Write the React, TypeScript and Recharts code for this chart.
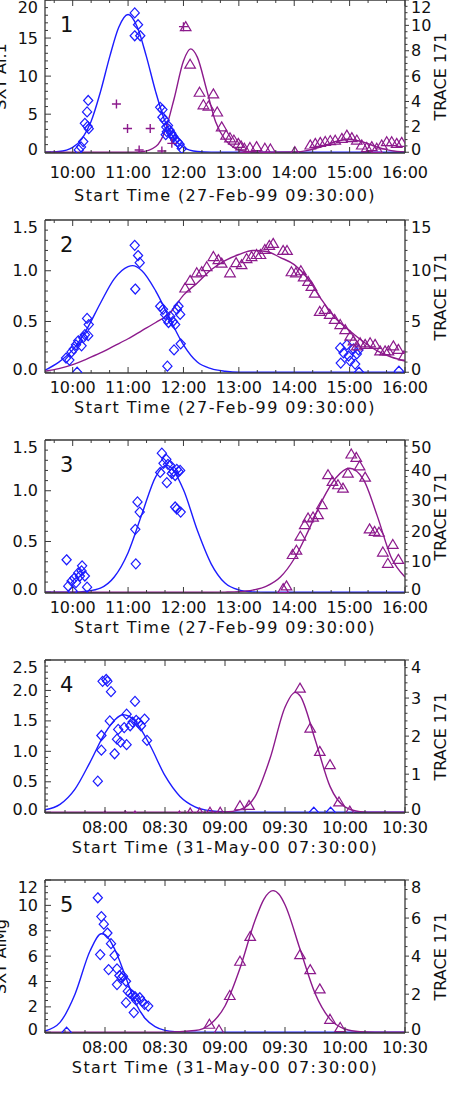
import React from 'react';
import { ComposedChart, Line, Scatter, XAxis, YAxis } from 'recharts';

const BLUE = '#1c1cff';
const PURPLE = '#8c1a8c';
const AX = '#3a3a3a';
const FONT = '"DejaVu Sans", sans-serif';

// x axis tick labels
const HOURS_A = [10, 11, 12, 13, 14, 15, 16];
const LABELS_A = ['10:00', '11:00', '12:00', '13:00', '14:00', '15:00', '16:00'];
const HOURS_B = [8, 8.5, 9, 9.5, 10, 10.5];
const LABELS_B = ['08:00', '08:30', '09:00', '09:30', '10:00', '10:30'];

// y axis major ticks
const P1_LEFT_TICKS = [0, 5, 10, 15, 20];
const P1_RIGHT_TICKS = [0, 2, 4, 6, 8, 10, 12];
const P2_LEFT_TICKS = [0, 0.5, 1, 1.5];
const P2_RIGHT_TICKS = [0, 5, 10, 15];
const P3_LEFT_TICKS = [0, 0.5, 1, 1.5];
const P3_RIGHT_TICKS = [0, 10, 20, 30, 40, 50];
const P4_LEFT_TICKS = [0, 0.5, 1, 1.5, 2, 2.5];
const P4_RIGHT_TICKS = [0, 1, 2, 3, 4];
const P5_LEFT_TICKS = [0, 2, 4, 6, 8, 10, 12];
const P5_RIGHT_TICKS = [0, 2, 4, 6, 8];

// panel 1 (27-Feb-99)
const P1_BLUE_FIT = [[9.5, 0.01], [9.75, 0.1], [10, 0.65], [10.17, 1.8], [10.33, 4.0], [10.5, 7.9], [10.67, 12.6], [10.83, 16.4], [11, 18.1], [11.17, 16.4], [11.33, 12.6], [11.5, 7.9], [11.67, 4.0], [11.83, 1.8], [12, 0.65], [12.25, 0.1], [12.5, 0.01], [13, 0], [16, 0]];
const P1_PURPLE_FIT = [[9.5, 0], [11, 0], [11.25, 0.04], [11.5, 0.45], [11.67, 1.7], [11.83, 4.2], [12, 7.2], [12.13, 8.15], [12.25, 7.5], [12.42, 4.9], [12.58, 2.4], [12.75, 1.0], [12.92, 0.35], [13.08, 0.1], [13.25, 0.02], [13.5, 0], [14, 0.02], [14.25, 0.15], [14.5, 0.45], [14.75, 0.85], [15, 1.0], [15.25, 0.8], [15.5, 0.4], [15.75, 0.13], [16, 0.03]];
const P1_DIAMONDS = [[10.28, 6.8], [10.26, 5.3], [10.22, 3.8], [10.27, 3.4], [10.29, 3.1], [10.19, 1.4], [10.15, 0.7], [10.11, 0.3], [11.12, 18.3], [11.18, 16.75], [11.12, 15.3], [11.22, 15.3], [11.58, 5.9], [11.62, 5.6], [11.62, 4.6], [11.66, 4.2], [11.69, 3.3], [11.72, 3.5], [11.7, 2.7], [11.75, 2.9], [11.78, 2.5], [11.8, 2.2], [11.82, 2.0], [11.85, 1.6], [11.89, 1.4], [11.93, 1.05], [11.97, 0.5], [11.68, 2.3]];
const P1_PLUS = [[10.79, 3.8], [10.99, 1.87], [11.4, 1.87], [11.2, 0.18], [11.61, 0.1], [11.79, 0.7], [12.0, 9.9]];
const P1_TRIANGLES = [[12.04, 9.9], [12.12, 6.94], [12.29, 4.73], [12.54, 4.6], [12.36, 3.74], [12.45, 3.64], [12.61, 3.17], [12.69, 2.0], [12.77, 1.35], [12.84, 1.14], [12.91, 0.96], [12.99, 0.7], [13.04, 0.5], [13.1, 0.31], [13.2, 0.37], [13.32, 0.44], [13.47, 0.31], [13.57, 0.26], [14.01, 0.05], [14.29, 0.57], [14.38, 0.7], [14.47, 0.78], [14.56, 0.85], [14.65, 0.92], [14.74, 0.95], [14.86, 1.09], [14.95, 1.35], [15.04, 1.15], [15.13, 0.96], [15.22, 0.57], [15.31, 0.37], [15.4, 0.44], [15.49, 0.31], [15.58, 0.57], [15.67, 0.83], [15.76, 0.83], [15.85, 0.7], [15.94, 0.78]];

// panel 2
const P2_BLUE_FIT = [[9.5, 0.02], [9.75, 0.1], [10, 0.22], [10.25, 0.42], [10.5, 0.68], [10.75, 0.92], [11, 1.04], [11.08, 1.05], [11.25, 1.0], [11.5, 0.8], [11.75, 0.53], [12, 0.27], [12.25, 0.1], [12.5, 0.035], [12.75, 0.01], [13, 0], [16, 0]];
const P2_PURPLE_FIT = [[9.5, 0.1], [9.75, 0.35], [10, 0.75], [10.25, 1.3], [10.5, 1.9], [10.75, 2.6], [11, 3.3], [11.25, 4.1], [11.5, 4.9], [11.75, 5.8], [12, 7.6], [12.25, 8.8], [12.5, 10.1], [12.75, 11.0], [13, 11.6], [13.25, 12.0], [13.5, 11.9], [13.75, 11.3], [14, 10.6], [14.25, 9.2], [14.5, 7.1], [14.75, 5.3], [15, 4.1], [15.25, 3.0], [15.5, 2.1], [15.75, 1.5], [16, 1.1]];
const P2_DIAMONDS = [[9.88, 0.14], [9.94, 0.12], [9.98, 0.2], [10.02, 0.23], [10.06, 0.27], [10.1, 0.31], [10.08, 0.0], [10.16, 0.26], [10.19, 0.34], [10.22, 0.37], [10.26, 0.53], [10.29, 0.47], [10.28, 0.36], [11.12, 1.25], [11.18, 1.15], [11.21, 1.08], [11.13, 0.82], [11.58, 0.65], [11.63, 0.62], [11.67, 0.57], [11.7, 0.52], [11.73, 0.49], [11.76, 0.55], [11.81, 0.5], [11.85, 0.47], [11.88, 0.62], [11.91, 0.65], [11.94, 0.57], [11.83, 0.22], [11.95, 0.28], [11.71, 0.06], [14.83, 0.24], [14.89, 0.19], [14.84, 0.09], [14.95, 0.27], [14.98, 0.16], [15.01, 0.11], [15.07, 0.23], [15.1, 0.08], [15.13, 0.18], [15.16, 0.22], [15.17, 0.0], [15.89, 0.01]];
const P2_TRIANGLES = [[12.03, 8.3], [12.12, 9.05], [12.24, 9.8], [12.33, 9.9], [12.42, 10.4], [12.54, 11.4], [12.63, 11.1], [12.69, 10.75], [12.84, 9.8], [12.95, 10.8], [13.05, 10.6], [13.14, 11.2], [13.23, 11.4], [13.32, 11.6], [13.39, 11.6], [13.47, 12.1], [13.55, 12.5], [13.62, 12.7], [13.8, 12.0], [13.87, 12.0], [13.95, 9.9], [14.03, 9.8], [14.12, 10.0], [14.17, 9.4], [14.25, 8.95], [14.31, 8.46], [14.37, 7.8], [14.46, 6.0], [14.55, 6.2], [14.64, 5.7], [14.73, 5.2], [14.83, 4.7], [14.92, 4.2], [15.01, 3.56], [15.07, 3.1], [15.13, 2.6], [15.19, 2.9], [15.28, 2.75], [15.37, 2.9], [15.46, 2.75], [15.55, 2.1], [15.64, 2.1], [15.7, 2.1], [15.79, 2.6], [15.88, 2.25], [15.98, 1.6]];

// panel 3
const P3_BLUE_FIT = [[9.5, 0], [10, 0.001], [10.25, 0.01], [10.5, 0.04], [10.75, 0.15], [11, 0.39], [11.25, 0.77], [11.5, 1.14], [11.7, 1.25], [12, 1.01], [12.25, 0.61], [12.5, 0.28], [12.75, 0.09], [13, 0.023], [13.25, 0.004], [13.5, 0], [16, 0]];
const P3_PURPLE_FIT = [[9.5, 0], [12.5, 0], [12.75, 0.05], [13, 0.2], [13.25, 0.7], [13.5, 2.0], [13.75, 5], [14, 11], [14.25, 20], [14.5, 30], [14.75, 37.5], [15, 40.7], [15.25, 37], [15.5, 25], [15.75, 11.5], [16, 5]];
const P3_DIAMONDS = [[9.89, 0.32], [9.92, 0.06], [9.98, 0.11], [10.0, 0.01], [10.03, 0.14], [10.06, 0.095], [10.1, 0.19], [10.13, 0.16], [10.17, 0.26], [10.22, 0.16], [10.26, 0.05], [10.16, 0.21], [11.13, 0.62], [11.17, 0.89], [11.21, 0.79], [11.14, 0.28], [11.61, 1.37], [11.58, 1.18], [11.64, 1.27], [11.69, 1.31], [11.72, 1.26], [11.7, 1.08], [11.76, 1.25], [11.79, 1.17], [11.82, 1.19], [11.85, 1.15], [11.88, 1.21], [11.91, 1.19], [11.94, 1.2], [11.85, 0.84], [11.88, 0.82], [11.95, 0.79]];
const P3_TRIANGLES = [[13.8, 1.2], [13.86, 2.1], [13.97, 12.4], [14.04, 13.8], [14.11, 18.4], [14.19, 22.2], [14.25, 24.4], [14.34, 24.7], [14.43, 25.5], [14.5, 28.8], [14.61, 38.6], [14.69, 36.4], [14.79, 35.3], [14.88, 34.2], [14.97, 39.1], [15.03, 45.4], [15.12, 44.3], [15.18, 41.5], [15.28, 37.8], [15.36, 20.8], [15.45, 20], [15.53, 19.7], [15.6, 13.2], [15.78, 15.7], [15.69, 9.5], [15.88, 10.8]];

// panel 4 (31-May-00)
const P4_BLUE_FIT = [[7.5, 0.04], [7.625, 0.13], [7.75, 0.38], [7.875, 0.82], [8, 1.3], [8.083, 1.52], [8.15, 1.6], [8.25, 1.5], [8.375, 1.1], [8.5, 0.6], [8.625, 0.26], [8.75, 0.09], [8.875, 0.025], [9, 0.005], [9.25, 0], [10.5, 0]];
const P4_PURPLE_FIT = [[7.5, 0], [8.75, 0], [9, 0.006], [9.125, 0.067], [9.25, 0.41], [9.375, 1.41], [9.5, 2.76], [9.585, 3.15], [9.625, 3.06], [9.75, 1.92], [9.875, 0.68], [10, 0.14], [10.125, 0.016], [10.25, 0], [10.5, 0]];
const P4_DIAMONDS = [[7.98, 2.15], [8.01, 2.18], [8.02, 2.15], [8.05, 1.98], [7.94, 0.51], [7.97, 1.26], [7.97, 1.02], [8.04, 1.5], [8.08, 0.96], [8.11, 1.36], [8.1, 1.2], [8.13, 1.15], [8.16, 1.39], [8.18, 1.61], [8.18, 1.11], [8.21, 1.42], [8.23, 1.48], [8.25, 1.82], [8.26, 1.51], [8.28, 1.47], [8.3, 1.42], [8.33, 1.53], [8.35, 1.18], [9.74, 0], [9.88, 0]];
const P4_TRIANGLES = [[8.0, -0.1], [8.17, -0.1], [8.25, -0.1], [8.62, -0.1], [8.71, -0.02], [8.79, -0.02], [8.875, 0.0], [8.96, 0.0], [9.125, 0.17], [9.2, 0.18], [9.625, 3.26], [9.71, 2.21], [9.79, 1.6], [9.875, 1.25], [9.95, 0.27], [10.04, 0.03]];

// panel 5
const P5_BLUE_FIT = [[7.5, 0.1], [7.625, 0.78], [7.75, 3.0], [7.875, 6.4], [7.97, 7.76], [8.0, 7.7], [8.083, 6.5], [8.167, 4.5], [8.25, 2.4], [8.333, 1.1], [8.417, 0.45], [8.5, 0.15], [8.583, 0.05], [8.75, 0.01], [9, 0], [10.5, 0]];
const P5_PURPLE_FIT = [[7.5, 0], [8.5, 0], [8.75, 0.09], [8.875, 0.41], [9, 1.38], [9.125, 3.36], [9.25, 5.87], [9.325, 7.0], [9.4, 7.44], [9.45, 7.25], [9.5, 6.7], [9.625, 4.37], [9.75, 2.05], [9.875, 0.69], [10, 0.17], [10.125, 0.03], [10.25, 0.004], [10.5, 0]];
const P5_DIAMONDS = [[7.68, 0.0], [7.94, 10.6], [7.97, 9.12], [7.99, 8.52], [8.02, 7.82], [7.96, 6.12], [8.05, 6.98], [8.08, 6.06], [8.03, 4.94], [8.1, 5.0], [8.12, 4.47], [8.14, 4.29], [8.15, 4.42], [8.1, 3.76], [8.175, 4.02], [8.19, 3.24], [8.21, 3.06], [8.23, 2.9], [8.25, 2.8], [8.26, 2.53], [8.29, 2.72], [8.31, 2.45], [8.33, 2.2], [8.36, 2.06], [8.175, 2.33], [8.24, 1.55]];
const P5_TRIANGLES = [[8.87, 0.42], [8.95, 0.12], [9.04, 1.93], [9.125, 3.73], [9.21, 5.04], [9.625, 4.08], [9.71, 3.29], [9.79, 2.28], [9.875, 0.68], [9.96, 0.25]];

type Pt = { t: number; v: number };
const pts = (a: number[][]): Pt[] => a.map(([t, v]) => ({ t, v }));

const BOX_H = 153;
const PAD_TOP = 12;

const steps = (lo: number, hi: number, anchor: number, step: number) => {
  const out: number[] = [];
  const k0 = Math.ceil((lo - anchor) / step - 1e-9);
  for (let k = k0; anchor + k * step <= hi + 1e-9; k++) {
    out.push(Math.round((anchor + k * step) * 1e6) / 1e6);
  }
  return out;
};
const near = (list: number[], v: number) => list.findIndex((m) => Math.abs(m - v) < 1e-6);

const PANELS = [
  { n: '1', top: 0, tickGap: 19.5, gap: 42, date: '27-Feb-99 09:30:00', lt: 'SXT Al.1', ltShow: true,
    xDom: [9.5, 16], xMajor: HOURS_A, xLabels: LABELS_A, xStep: 1 / 3, xAnchor: 10,
    lMajor: P1_LEFT_TICKS, lStep: 1, lDec: 0, rMajor: P1_RIGHT_TICKS, rStep: 0.5, rDec: 0,
    blueFit: P1_BLUE_FIT, purpleFit: P1_PURPLE_FIT, dia: P1_DIAMONDS, tri: P1_TRIANGLES, plus: P1_PLUS },
  { n: '2', top: 220, tickGap: 14.5, gap: 34, date: '27-Feb-99 09:30:00', lt: 'SXT Al.1', ltShow: false,
    xDom: [9.5, 16], xMajor: HOURS_A, xLabels: LABELS_A, xStep: 1 / 3, xAnchor: 10,
    lMajor: P2_LEFT_TICKS, lStep: 0.1, lDec: 1, rMajor: P2_RIGHT_TICKS, rStep: 1, rDec: 0,
    blueFit: P2_BLUE_FIT, purpleFit: P2_PURPLE_FIT, dia: P2_DIAMONDS, tri: P2_TRIANGLES, plus: [] },
  { n: '3', top: 440, tickGap: 14.5, gap: 34, date: '27-Feb-99 09:30:00', lt: 'SXT Al.1', ltShow: false,
    xDom: [9.5, 16], xMajor: HOURS_A, xLabels: LABELS_A, xStep: 1 / 3, xAnchor: 10,
    lMajor: P3_LEFT_TICKS, lStep: 0.1, lDec: 1, rMajor: P3_RIGHT_TICKS, rStep: 2, rDec: 0,
    blueFit: P3_BLUE_FIT, purpleFit: P3_PURPLE_FIT, dia: P3_DIAMONDS, tri: P3_TRIANGLES, plus: [] },
  { n: '4', top: 660, tickGap: 14.5, gap: 34, date: '31-May-00 07:30:00', lt: 'SXT AlMg', ltShow: false,
    xDom: [7.5, 10.5], xMajor: HOURS_B, xLabels: LABELS_B, xStep: 1 / 6, xAnchor: 8,
    lMajor: P4_LEFT_TICKS, lStep: 0.1, lDec: 1, rMajor: P4_RIGHT_TICKS, rStep: 0.2, rDec: 0,
    blueFit: P4_BLUE_FIT, purpleFit: P4_PURPLE_FIT, dia: P4_DIAMONDS, tri: P4_TRIANGLES, plus: [] },
  { n: '5', top: 880, tickGap: 14.5, gap: 34, date: '31-May-00 07:30:00', lt: 'SXT AlMg', ltShow: true,
    xDom: [7.5, 10.5], xMajor: HOURS_B, xLabels: LABELS_B, xStep: 1 / 6, xAnchor: 8,
    lMajor: P5_LEFT_TICKS, lStep: 0.5, lDec: 0, rMajor: P5_RIGHT_TICKS, rStep: 0.5, rDec: 0,
    blueFit: P5_BLUE_FIT, purpleFit: P5_PURPLE_FIT, dia: P5_DIAMONDS, tri: P5_TRIANGLES, plus: [] },
];

const textProps = { fontFamily: FONT, fontSize: 16, fill: '#111' };

const xTick = (major: number[], labels: string[], down: boolean, gap: number) => (p: any) => {
  const { x, y, payload } = p;
  const i = near(major, payload.value);
  const len = i >= 0 ? 6 : 3;
  return (
    <g>
      <line x1={x} x2={x} y1={y} y2={down ? y + len : y - len} stroke={AX} strokeWidth={1} />
      {!down && i >= 0 && (
        <text x={x} y={y + gap} textAnchor="middle" dominantBaseline="central" {...textProps}>
          {labels[i]}
        </text>
      )}
    </g>
  );
};

const yTick = (major: number[], dec: number, side: 'l' | 'r') => (p: any) => {
  const { x, y, payload } = p;
  const i = near(major, payload.value);
  const len = side === 'l' ? (i >= 0 ? 6 : 3) : (i >= 0 ? 4 : 2.5);
  const ly = Math.min(Math.max(y, PAD_TOP + 7), PAD_TOP + BOX_H - 4);
  return (
    <g>
      <line x1={x} x2={x + len} y1={y} y2={y} stroke={AX} strokeWidth={1} />
      {i >= 0 && (
        <text x={side === 'l' ? x - 7 : x + 6} y={ly} textAnchor={side === 'l' ? 'end' : 'start'}
          dominantBaseline="central" {...textProps}>
          {major[i].toFixed(dec)}
        </text>
      )}
    </g>
  );
};

const diamond = (p: any) => {
  const { cx, cy } = p;
  if (cx == null || cy == null) return <g />;
  return <path d={`M${cx},${cy - 5}L${cx + 4.6},${cy}L${cx},${cy + 5}L${cx - 4.6},${cy}Z`} fill="none" stroke={BLUE} strokeWidth={1.2} />;
};
const triangle = (p: any) => {
  const { cx, cy } = p;
  if (cx == null || cy == null) return <g />;
  return <path d={`M${cx},${cy - 5}L${cx + 5.3},${cy + 4}L${cx - 5.3},${cy + 4}Z`} fill="none" stroke={PURPLE} strokeWidth={1.2} />;
};
const plusMark = (p: any) => {
  const { cx, cy } = p;
  if (cx == null || cy == null) return <g />;
  return <path d={`M${cx - 4.5},${cy}H${cx + 4.5}M${cx},${cy - 4.5}V${cy + 4.5}`} fill="none" stroke={PURPLE} strokeWidth={1.4} />;
};

const Panel = ({ cfg }: { cfg: any }) => {
  const xTicks = steps(cfg.xDom[0], cfg.xDom[1], cfg.xAnchor, cfg.xStep);
  const lMax = cfg.lMajor[cfg.lMajor.length - 1];
  const rMax = cfg.rMajor[cfg.rMajor.length - 1];
  const lTicks = steps(0, lMax, 0, cfg.lStep);
  const rTicks = steps(0, rMax, 0, cfg.rStep);
  const axisLine = { stroke: AX, strokeWidth: 1.3 };
  // axes are 1px thick so that Recharts draws them; margins compensate
  return (
    <div style={{ position: 'absolute', left: 0, top: cfg.top - PAD_TOP }}>
      <ComposedChart width={450} height={PAD_TOP + BOX_H + 50}
        margin={{ top: PAD_TOP - 1, right: 44, bottom: 49, left: 44 }}>
        <XAxis xAxisId="b" dataKey="t" type="number" domain={cfg.xDom} allowDataOverflow
          ticks={xTicks} interval={0} height={1} tickSize={0} tickMargin={0} tickLine={false}
          axisLine={axisLine} tick={xTick(cfg.xMajor, cfg.xLabels, false, cfg.tickGap)} />
        <XAxis xAxisId="t" orientation="top" dataKey="t" type="number" domain={cfg.xDom} allowDataOverflow
          ticks={xTicks} interval={0} height={1} tickSize={0} tickMargin={0} tickLine={false}
          axisLine={axisLine} tick={xTick(cfg.xMajor, cfg.xLabels, true, 0)} />
        <YAxis yAxisId="l" orientation="left" type="number" width={1}
          domain={[-lMax * 0.005, lMax]} allowDataOverflow ticks={lTicks} interval={0}
          tickSize={0} tickMargin={0} tickLine={false} axisLine={axisLine}
          tick={yTick(cfg.lMajor, cfg.lDec, 'l')} />
        <YAxis yAxisId="r" orientation="right" type="number" width={1}
          domain={[-rMax * 0.005, rMax]} allowDataOverflow ticks={rTicks} interval={0}
          tickSize={0} tickMargin={0} tickLine={false} axisLine={axisLine}
          tick={yTick(cfg.rMajor, cfg.rDec, 'r')} />
        <Line xAxisId="b" yAxisId="l" data={pts(cfg.blueFit)} dataKey="v" type="monotone"
          dot={false} activeDot={false} stroke={BLUE} strokeWidth={1.4} isAnimationActive={false} />
        <Line xAxisId="b" yAxisId="r" data={pts(cfg.purpleFit)} dataKey="v" type="monotone"
          dot={false} activeDot={false} stroke={PURPLE} strokeWidth={1.4} isAnimationActive={false} />
        <Scatter xAxisId="b" yAxisId="l" data={pts(cfg.dia)} dataKey="v" shape={diamond}
          isAnimationActive={false} />
        <Scatter xAxisId="b" yAxisId="r" data={pts(cfg.tri)} dataKey="v" shape={triangle}
          isAnimationActive={false} />
        {cfg.plus.length > 0 && (
          <Scatter xAxisId="b" yAxisId="r" data={pts(cfg.plus)} dataKey="v" shape={plusMark}
            isAnimationActive={false} />
        )}
      </ComposedChart>
    </div>
  );
};

export default function App() {
  return (
    <div style={{ position: 'absolute', left: 0, top: 0, width: 450, height: 1100, overflow: 'hidden', background: '#fff' }}>
      {PANELS.map((cfg) => <Panel key={cfg.n} cfg={cfg} />)}
      <svg width={450} height={1100} style={{ position: 'absolute', left: 0, top: 0, pointerEvents: 'none' }}>
        {PANELS.map((cfg) => {
          const bottom = cfg.top + BOX_H;
          const mid = cfg.top + BOX_H / 2;
          return (
            <g key={cfg.n}>
              <text x={60} y={cfg.top + 25} dominantBaseline="central" fontFamily={FONT} fontSize={21} fill="#111">{cfg.n}</text>
              <text x={225} y={bottom + cfg.gap} textAnchor="middle" dominantBaseline="central"
                letterSpacing={1.4} {...textProps}>{`Start Time (${cfg.date})`}</text>
              <text x={446} y={mid} textAnchor="middle"
                transform={`rotate(-90 446 ${mid})`} {...textProps}>TRACE 171</text>
              {cfg.ltShow && (
                <text x={6} y={mid} textAnchor="middle" transform={`rotate(-90 6 ${mid})`} {...textProps}>{cfg.lt}</text>
              )}
            </g>
          );
        })}
      </svg>
    </div>
  );
}
